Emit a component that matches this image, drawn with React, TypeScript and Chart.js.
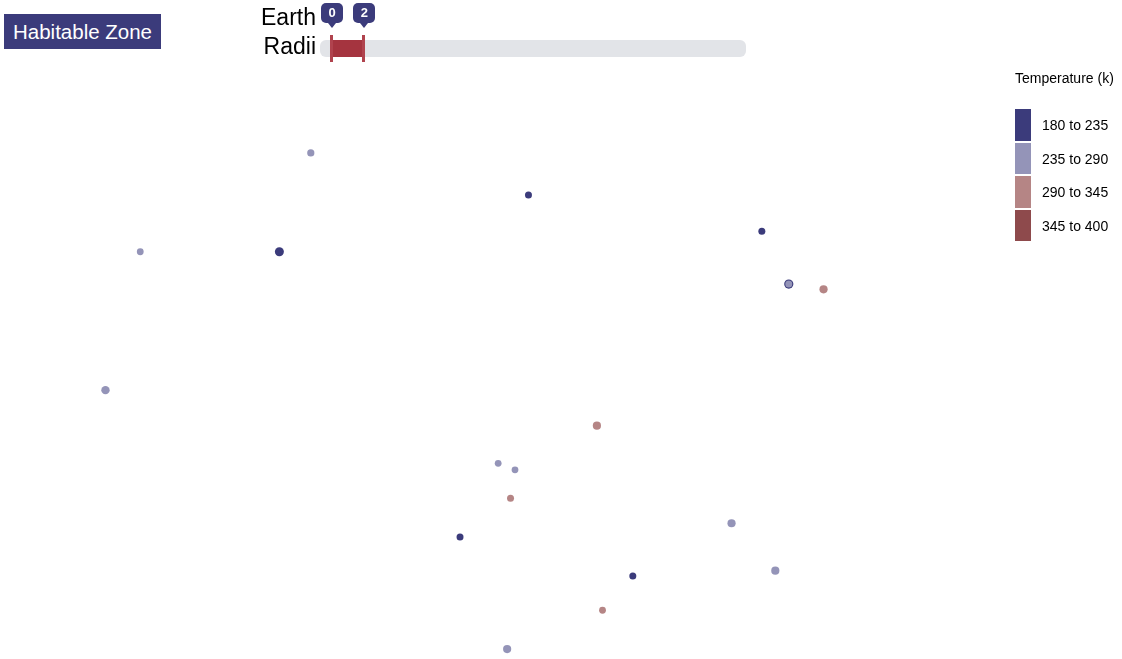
import { useEffect, useRef } from "react"
import { Chart, registerables } from "chart.js"

Chart.register(...registerables)

// temperature bins (k) and their colours
const tempBins = [
  [180, 235],
  [235, 290],
  [290, 345],
  [345, 400],
]
const binColors = ["#3b3b7b", "#9494b8", "#b58585", "#8e4a4c"]

// planets: position (arbitrary 0-100 units), temperature (k), radius (earth radii)
const planetX = [27.7, 47.1, 67.9, 12.5, 24.9, 70.3, 70.3, 73.4, 9.4, 53.2, 44.4, 45.9, 45.5, 41.0, 65.2, 69.1, 56.4, 53.7, 45.2]
const planetY = [76.8, 70.4, 64.9, 61.8, 61.8, 56.9, 56.9, 56.1, 40.8, 35.4, 29.7, 28.7, 24.4, 18.5, 20.6, 13.4, 12.6, 7.4, 1.5]
const planetTemp = [260, 210, 200, 250, 220, 230, 240, 300, 270, 310, 255, 265, 320, 195, 275, 245, 215, 330, 280]
const planetRadius = [1.3, 1.25, 1.25, 1.2, 1.75, 1.8, 1.25, 1.55, 1.6, 1.55, 1.2, 1.2, 1.25, 1.25, 1.55, 1.55, 1.25, 1.2, 1.55]

// slider: selected earth radii range
const radiusRange = [0, 2]
const sliderMax = 25

export default function App() {
  const chartRef = useRef<HTMLCanvasElement>(null)
  const chartInstance = useRef<Chart | null>(null)

  useEffect(() => {
    document.body.style.margin = "0"
    if (!chartRef.current) return
    if (chartInstance.current) chartInstance.current.destroy()
    const ctx = chartRef.current.getContext("2d")
    if (!ctx) return

    const datasets = tempBins.map((bin, i) => ({
      label: `${bin[0]} to ${bin[1]}`,
      data: planetX
        .map((x, j) => ({ x, y: planetY[j], t: planetTemp[j], r: planetRadius[j] }))
        .filter(
          (p) =>
            p.t >= bin[0] &&
            p.t < bin[1] &&
            p.r >= radiusRange[0] &&
            p.r <= radiusRange[1]
        ),
      backgroundColor: binColors[i],
      borderWidth: 0,
      // cooler bins are drawn first, warmer ones on top
      order: tempBins.length - i,
      pointRadius: (c: any) => 1 + 2 * (c.raw ? c.raw.r : 1),
    }))

    chartInstance.current = new Chart(ctx, {
      type: "scatter",
      data: { datasets },
      options: {
        animation: false,
        responsive: true,
        maintainAspectRatio: false,
        layout: { padding: 0, autoPadding: false },
        scales: {
          x: { display: false, min: 0, max: 100 },
          y: { display: false, min: 0, max: 100 },
        },
        plugins: {
          legend: { display: false },
          tooltip: { enabled: true },
        },
      },
    })

    return () => {
      if (chartInstance.current) {
        chartInstance.current.destroy()
        chartInstance.current = null
      }
    }
  }, [])

  const font = "'Liberation Sans', Arial, Helvetica, sans-serif"
  const handlePos = (v: number) => 331 + (v / sliderMax) * 404

  return (
    <div style={{ position: "fixed", inset: 0, fontFamily: font, overflow: "hidden" }}>
      <div style={{ position: "absolute", inset: 0 }}>
        <canvas ref={chartRef} />
      </div>

      {/* habitable zone button */}
      <div
        style={{
          position: "absolute",
          left: 4,
          top: 14,
          width: 157,
          height: 35,
          background: "#3b3b7b",
          color: "#fff",
          fontSize: 20.5,
          lineHeight: "36px",
          textAlign: "center",
        }}
      >
        Habitable Zone
      </div>

      {/* earth radii slider */}
      <div style={{ position: "absolute", left: 200, top: 3, width: 116, textAlign: "right", fontSize: 23, lineHeight: "29px" }}>
        Earth
        <br />
        Radii
      </div>
      <div
        style={{
          position: "absolute",
          left: 320,
          top: 40,
          width: 426,
          height: 17,
          background: "#e2e4e8",
          borderRadius: 6,
        }}
      />
      <div
        style={{
          position: "absolute",
          left: handlePos(radiusRange[0]),
          top: 40,
          width: handlePos(radiusRange[1]) - handlePos(radiusRange[0]),
          height: 17,
          background: "#a5343f",
        }}
      />
      {radiusRange.map((v) => (
        <div key={"h" + v}>
          <div
            style={{
              position: "absolute",
              left: handlePos(v) - 1,
              top: 35,
              width: 2.5,
              height: 27,
              background: "#b0434e",
            }}
          />
          <div
            style={{
              position: "absolute",
              left: handlePos(v) - 10,
              top: 3,
              width: 22,
              height: 20,
              borderRadius: 5,
              background: "#3b3b7b",
              color: "#fff",
              fontSize: 13,
              fontWeight: "bold",
              lineHeight: "20px",
              textAlign: "center",
            }}
          >
            {v}
          </div>
          <div
            style={{
              position: "absolute",
              left: handlePos(v) - 3,
              top: 23,
              width: 0,
              height: 0,
              borderLeft: "4px solid transparent",
              borderRight: "4px solid transparent",
              borderTop: "5px solid #3b3b7b",
            }}
          />
        </div>
      ))}

      {/* temperature legend */}
      <div style={{ position: "absolute", left: 1015, top: 70, fontSize: 14, whiteSpace: "nowrap" }}>
        Temperature (k)
      </div>
      {tempBins.map((bin, i) => (
        <div key={"l" + i}>
          <div
            style={{
              position: "absolute",
              left: 1015,
              top: 109 + i * 33.5,
              width: 16,
              height: 31.5,
              background: binColors[i],
            }}
          />
          <div
            style={{
              position: "absolute",
              left: 1042,
              top: 110 + i * 33.5,
              height: 31.5,
              lineHeight: "31.5px",
              fontSize: 14,
              whiteSpace: "nowrap",
            }}
          >
            {bin[0]} to {bin[1]}
          </div>
        </div>
      ))}
    </div>
  )
}
